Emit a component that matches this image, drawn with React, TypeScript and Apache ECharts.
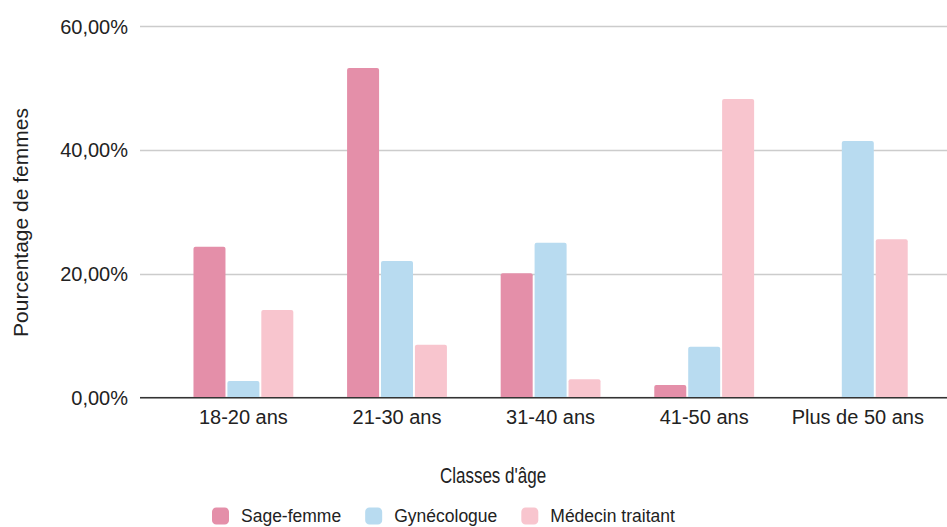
import React, { useEffect, useRef } from "react";
import * as echarts from "echarts";

const categories = ["18-20 ans", "21-30 ans", "31-40 ans", "41-50 ans", "Plus de 50 ans"];
const sageFemme = [24.42, 53.32, 20.12, 2.05, 0];
const gynecologue = [2.7, 22.11, 25.07, 8.25, 41.52];
const medecinTraitant = [14.18, 8.57, 2.97, 48.31, 25.62];
const seriesNames = ["Sage-femme", "Gynécologue", "Médecin traitant"];
const colors = ["#e48fa9", "#b8dbf0", "#f8c5ce"];
const yMax = 60;
const yInterval = 20;

const FONT = "'Liberation Sans', Arial, sans-serif";

export default function App() {
  const ref = useRef<HTMLDivElement>(null);
  useEffect(() => {
    if (!ref.current) return;
    const chart = echarts.init(ref.current, undefined, { renderer: "svg" });
    const fmt = (v: number) => v.toFixed(2).replace(".", ",") + "%";
    const top = 26.7;
    const bottom = 129.3;
    chart.setOption({
      animation: false,
      textStyle: { fontFamily: FONT },
      grid: [
        { left: 140, right: 0, top, bottom },
        { left: 166.6, right: 12.4, top, bottom },
      ],
      xAxis: [
        { type: "category", gridIndex: 0, data: categories, show: false },
        {
          type: "category",
          gridIndex: 1,
          data: categories,
          axisLine: { show: false },
          axisTick: { show: false },
          axisLabel: { interval: 0, fontSize: 20, color: "#222", margin: 9, fontFamily: FONT },
        },
      ],
      yAxis: [
        {
          type: "value",
          gridIndex: 0,
          min: 0,
          max: yMax,
          interval: yInterval,
          axisLine: { show: false },
          axisTick: { show: false },
          axisLabel: { formatter: fmt, fontSize: 20, color: "#222", margin: 12, fontFamily: FONT },
          splitLine: { lineStyle: { color: "#cccccc", width: 1.3 } },
        },
        {
          type: "value",
          gridIndex: 1,
          min: 0,
          max: yMax,
          interval: yInterval,
          show: false,
          splitLine: { show: false },
        },
      ],
      legend: {
        left: 212,
        top: 507,
        padding: 0,
        itemWidth: 17,
        itemHeight: 17,
        itemGap: 24,
        icon: "roundRect",
        data: seriesNames,
        textStyle: { fontSize: 17.5, color: "#222", fontFamily: FONT, padding: [2, 0, 0, 7] },
      },
      graphic: [
        {
          type: "line",
          shape: { x1: 140, y1: 397.7, x2: 947, y2: 397.7 },
          style: { stroke: "#333", lineWidth: 1.5 },
          z: 10,
        },
        {
          type: "text",
          x: 493,
          y: 475,
          scaleY: 1.3,
          style: {
            text: "Classes d'âge",
            fontSize: 17,
            fill: "#222",
            fontFamily: FONT,
            textAlign: "center",
            textVerticalAlign: "middle",
          },
        },
        {
          type: "text",
          x: 20,
          y: 222.5,
          rotation: Math.PI / 2,
          style: {
            text: "Pourcentage de femmes",
            fontSize: 21,
            fill: "#222",
            fontFamily: FONT,
            textAlign: "center",
            textVerticalAlign: "middle",
          },
        },
      ],
      series: [sageFemme, gynecologue, medecinTraitant].map((d, i) => ({
        name: seriesNames[i],
        type: "bar",
        xAxisIndex: 1,
        yAxisIndex: 1,
        data: d,
        barWidth: 32,
        barGap: "6%",
        itemStyle: { color: colors[i], borderRadius: [2, 2, 0, 0] },
      })),
    });
    return () => chart.dispose();
  }, []);
  return <div ref={ref} style={{ width: 947, height: 527, position: "absolute", left: 0, top: 0 }} />;
}
